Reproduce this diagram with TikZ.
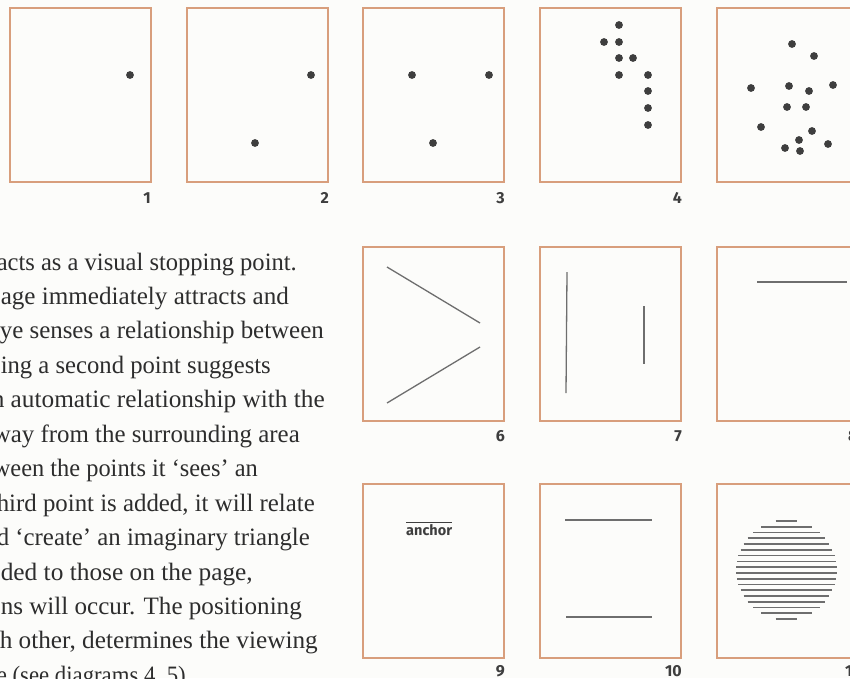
\documentclass[tikz,border=0pt]{standalone}
\usepackage{fontspec}
\setmainfont{Liberation Serif}
\newfontfamily\labelfont{Fira Sans}
\newcommand{\fitline}[2]{\resizebox{#1pt}{\height}{#2}}
\definecolor{framecol}{RGB}{216,158,124}
\definecolor{inkcol}{RGB}{62,62,62}
\definecolor{barcol}{RGB}{110,110,110}
\definecolor{textcol}{RGB}{45,45,45}
\definecolor{pagecol}{RGB}{252,252,250}
\tikzset{
  boxframe/.style={draw=framecol,line width=1.2pt},
  dotmark/.style={fill=inkcol},
  bar/.style={draw=barcol,line width=1.3pt},
  num/.style={anchor=base east,inner sep=0pt,text=inkcol,font=\labelfont\bfseries\fontsize{16}{16}\selectfont},
  bodyline/.style={anchor=base east,inner sep=0pt,text=textcol,font=\fontsize{25}{34}\selectfont},
}
\begin{document}
\begin{tikzpicture}[x=1pt,y=-1pt]
    \useasboundingbox (0,0) rectangle (850,678);
    \fill[pagecol] (0,0) rectangle (850,678);
    \clip (0,0) rectangle (850,678);
    % frames
    \foreach \x in {10,187,363,540,717}
      \draw[boxframe] (\x,8) rectangle ++(141,174);
    \foreach \x in {363,540,717}{
      \draw[boxframe] (\x,247) rectangle ++(141,174);
      \draw[boxframe] (\x,484) rectangle ++(141,174);
    }
    % numbers
    \node[num] (n1) at (151,203) {1};
    \node[num] (n2) at (329,203) {2};
    \node[num] (n3) at (505,203) {3};
    \node[num] (n4) at (682,203) {4};
    \node[num] (n6) at (505,441) {6};
    \node[num] (n7) at (682,441) {7};
    \node[num,anchor=base west] (n8) at (848,441) {8};
    \node[num] (n9) at (505,676) {9};
    \node[num] (n10) at (682,676) {10};
    \node[num,anchor=base west] (n11) at (845,676) {11};
    % one point
    \fill[dotmark] (130,75) circle (3.9);
    % two points
    \fill[dotmark] (311,75) circle (3.9);
    \fill[dotmark] (255,143) circle (3.9);
    % three points
    \foreach \p in {(412,75),(489,75),(433,143)}
      \fill[dotmark] \p circle (3.9);
    % a row of points
    \foreach \p in {(619,25),(604,42),(619,42),(619,58),(633,58),(619,75),
                    (648,75),(648,91),(648,108),(648,125)}
      \fill[dotmark] \p circle (3.9);
    % scattered points
    \foreach \p in {(792,44),(814,56),(751,88),(789,86),(809,91),(833,85),
                    (787,107),(806,107),(761,127),(812,131),(799,140),
                    (785,148),(800,151),(828,144)}
      \fill[dotmark] \p circle (3.9);
    % lines
    \draw[bar] (387,267) -- (480,323);
    \draw[bar] (387,403) -- (480,347);
    \draw[bar] (567,272) -- (566,393);
    \draw[bar] (644,306) -- (644,364);
    \draw[bar] (757,282) -- (847,282);
    \draw[bar] (565,520) -- (652,520);
    \draw[bar] (566,617) -- (652,617);
    % circle of lines
    \foreach \k in {0,...,17}{
      \pgfmathsetmacro\dy{-49+\k*98/17}
      \pgfmathsetmacro\hw{sqrt(2520-\dy*\dy)}
      \draw[bar,line width=1.7pt] (786.5-\hw,570+\dy) -- (786.5+\hw,570+\dy);
    }
    % anchor
    \node[anchor=base west,inner sep=0pt,text=inkcol,font=\labelfont\bfseries\fontsize{14.5}{14.5}\selectfont] (anchorword) at (406,535) {anchor};
    \draw[draw=inkcol,line width=1pt] ([yshift=1.5pt]anchorword.north west) -- ([yshift=1.5pt]anchorword.north east);
    % text
    \node[bodyline] (t1) at (297,270) {\fitline{300}{acts as a visual stopping point.}};
    \node[bodyline] (t2) at (289,304.4) {\fitline{288}{age immediately attracts and}};
    \node[bodyline] (t3) at (324,338.9) {\fitline{324}{ye senses a relationship between}};
    \node[bodyline] (t4) at (271,373.3) {\fitline{270}{ing a second point suggests}};
    \node[bodyline] (t5) at (325,407.8) {\fitline{333}{n automatic relationship with the}};
    \node[bodyline] (t6) at (300,442.2) {\fitline{307}{way from the surrounding area}};
    \node[bodyline] (t7) at (258,476.7) {\fitline{265}{ween the points it `sees' an}};
    \node[bodyline] (t8) at (315,511.1) {\fitline{318}{hird point is added, it will relate}};
    \node[bodyline] (t9) at (310,545.6) {\fitline{313}{d `create' an imaginary triangle}};
    \node[bodyline] (t10) at (253,580) {\fitline{252}{ded to those on the page,}};
    \node[bodyline] (t11) at (302,614.4) {\fitline{301}{ns will occur. The positioning}};
    \node[bodyline] (t12) at (318,648.9) {\fitline{318}{h other, determines the viewing}};
    \node[bodyline] (t13) at (186,683.3) {\fitline{189}{e (see diagrams 4, 5)}};
\end{tikzpicture}
\end{document}
